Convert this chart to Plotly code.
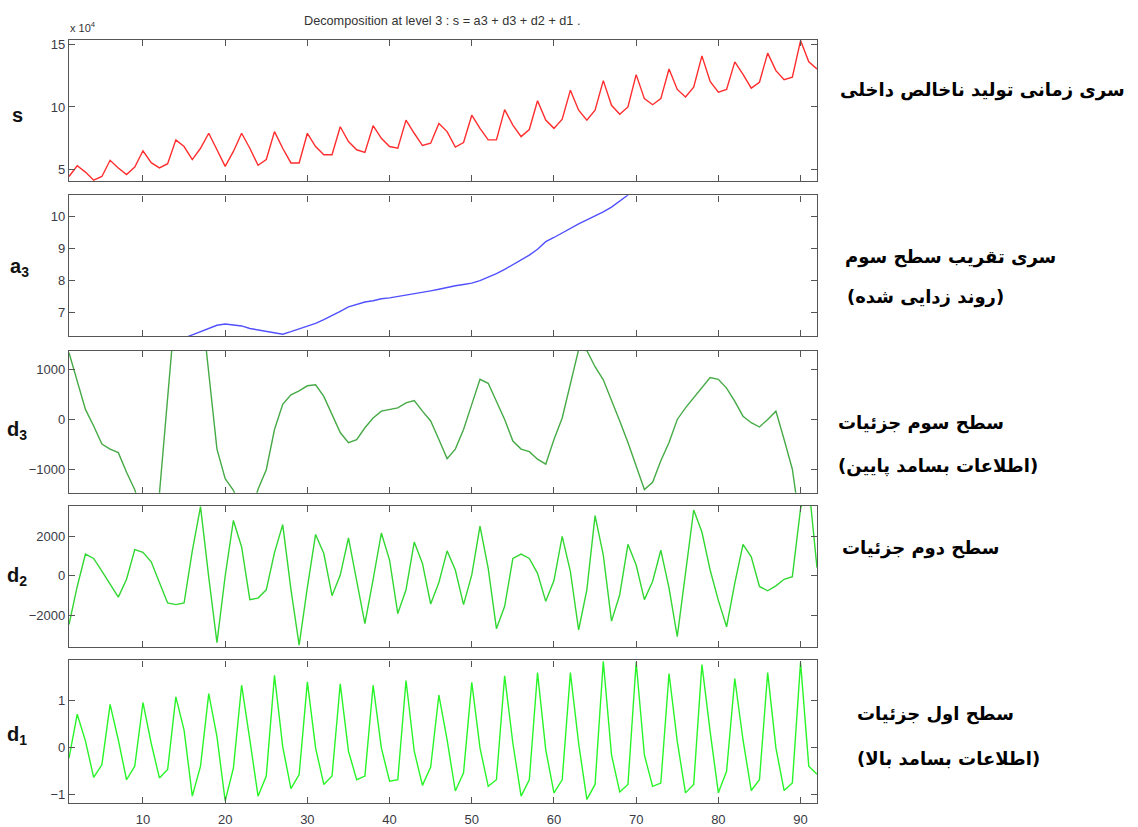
import plotly.graph_objects as go

# ---------------- data ----------------
x = list(range(1, 93))

# s in units of 1e4
s_e4 = [4.45, 5.3, 4.8, 4.15, 4.45, 5.74, 5.13, 4.6, 5.2, 6.5,
        5.55, 5.13, 5.47, 7.37, 6.84, 5.8, 6.7, 7.9, 6.58, 5.26,
        6.45, 7.9, 6.7, 5.34, 5.8, 8.03, 6.7, 5.53, 5.53, 7.9,
        6.84, 6.18, 6.18, 8.42, 7.24, 6.58, 6.37, 8.5, 7.5, 6.84,
        6.7, 8.95, 7.9, 6.92, 7.1, 8.68, 8.03, 6.8, 7.16, 9.34,
        8.29, 7.37, 7.37, 9.79, 8.55, 7.63, 8.2, 10.5, 8.95, 8.29,
        9.03, 11.34, 9.74, 8.95, 9.74, 12.1, 10.13, 9.42, 10.0, 12.58,
        10.66, 10.18, 10.66, 13.03, 11.4, 10.8, 11.58, 14.08, 12.03, 11.18,
        11.4, 13.6, 12.6, 11.5, 11.97, 14.3, 12.9, 12.18, 12.37, 15.3,
        13.6, 13.03]

# a3 in units of 1e4
a3_e4 = [4.9, 4.95, 5.0, 5.05, 5.1, 5.2, 5.3, 5.4, 5.5, 5.6,
         5.7, 5.8, 5.95, 6.08, 6.2, 6.3, 6.4, 6.5, 6.6, 6.64,
         6.6, 6.58, 6.5, 6.45, 6.4, 6.36, 6.32, 6.4, 6.48, 6.56,
         6.66, 6.78, 6.9, 7.04, 7.18, 7.26, 7.33, 7.37, 7.43, 7.46,
         7.5, 7.54, 7.58, 7.63, 7.68, 7.73, 7.79, 7.84, 7.88, 7.92,
         8.0, 8.1, 8.22, 8.35, 8.5, 8.65, 8.8, 8.98, 9.22, 9.35,
         9.5, 9.65, 9.78, 9.9, 10.02, 10.15, 10.3, 10.48, 10.68, 10.9,
         11.1, 11.3, 11.45, 11.6, 11.75, 11.9, 12.0, 12.1, 12.2, 12.3,
         12.4, 12.5, 12.6, 12.7, 12.8, 12.9, 13.0, 13.1, 13.2, 13.3,
         13.4, 13.5]

d3 = [1330, 790, 200, -130, -490, -590, -660, -1050, -1400, -1900,
      -2100, -1480, 440, 2340, 2900, 3000, 2450, 950, -590, -1180,
      -1410, -1800, -1900, -1390, -1000, -200, 300, 490, 570, 670,
      690, 460, 100, -260, -460, -400, -165, 30, 165, 200,
      230, 330, 375, 165, -30, -400, -780, -590, -200, 300,
      800, 720, 360, 0, -430, -590, -640, -790, -890, -400,
      30, 720, 1390, 1370, 1050, 790, 395, -30, -460, -920,
      -1395, -1250, -820, -460, 0, 230, 430, 625, 835, 800,
      625, 360, 65, -65, -150, 0, 165, -400, -990, -2140,
      -2600, -2900]

d2 = [-2480, -550, 1090, 870, 230, -435, -1090, -185, 1320, 1180,
      700, -350, -1390, -1470, -1390, 1255, 3500, -80, -3400, -20,
      2800, 1455, -1220, -1140, -720, 1170, 2590, -700, -3530, -600,
      2090, 1120, -1020, 30, 1910, -270, -2440, -185, 2160, 790,
      -1925, -720, 1700, 620, -1440, -350, 1255, 285, -1470, 35,
      2510, 370, -2695, -1555, 870, 1090, 870, 115, -1305, -250,
      1990, 200, -2760, -720, 3045, 1040, -2310, -970, 1590, 535,
      -1220, -300, 1290, -635, -3100, 115, 3330, 2210, 285, -1255,
      -2595, -385, 1590, 955, -550, -770, -520, -185, -50, 3400,
      4600, 400]

# d1 in units of 1e4
d1_e4 = [-0.23, 0.71, 0.14, -0.64, -0.37, 0.92, 0.16, -0.69, -0.40, 0.96,
         0.09, -0.65, -0.47, 1.08, 0.37, -1.04, -0.40, 1.15, 0.23, -1.14,
         -0.44, 1.33, 0.16, -1.04, -0.61, 1.54, 0.02, -0.88, -0.58, 1.40,
         -0.01, -0.79, -0.61, 1.36, -0.08, -0.69, -0.61, 1.33, -0.01, -0.72,
         -0.69, 1.43, -0.08, -0.81, -0.42, 1.12, 0.16, -0.93, -0.54, 1.39,
         -0.01, -0.83, -0.69, 1.53, 0.09, -1.04, -0.69, 1.60, -0.05, -0.97,
         -0.69, 1.60, 0.09, -1.11, -0.79, 1.84, -0.16, -0.95, -0.79, 1.82,
         -0.16, -0.83, -0.76, 1.58, 0.13, -0.97, -0.79, 1.77, 0.34, -0.97,
         -0.51, 1.47, 0.16, -0.92, -0.69, 1.60, -0.01, -0.92, -0.76, 1.82,
         -0.40, -0.57]

x_ticks = [10, 20, 30, 40, 50, 60, 70, 80, 90]
title_text = "Decomposition at level 3 : s = a3 + d3 + d2 + d1 ."
row_labels = ["s", "a<sub>3</sub>", "d<sub>3</sub>", "d<sub>2</sub>", "d<sub>1</sub>"]
y_ticks = [[5, 10, 15], [7, 8, 9, 10], [-1000, 0, 1000], [-2000, 0, 2000], [-1, 0, 1]]
y_ranges = [[4.05, 15.37], [6.26, 10.67], [-1460, 1362], [-3648, 3548], [-1.19, 1.86]]
persian_lines = [
    "سری زمانی تولید ناخالص داخلی",
    "سری تقریب سطح سوم",
    "(روند زدایی شده)",
    "سطح سوم جزئیات",
    "(اطلاعات بسامد پایین)",
    "سطح دوم جزئیات",
    "سطح اول جزئیات",
    "(اطلاعات بسامد بالا)",
]

# ---------------- layout geometry ----------------
W, H = 1138, 827
series = [s_e4, a3_e4, d3, d2, d1_e4]
colors = ["rgb(255,45,45)", "rgb(80,80,255)", "rgb(70,170,70)",
          "rgb(50,215,50)", "rgb(40,245,40)"]
panels_px = [(37, 180), (194, 336), (351, 494), (507, 650), (663, 807)]
x_dom = [69 / W, 817 / W]

fig = go.Figure()
axis_col = "#555555"
tick_font = dict(family="Arial, Liberation Sans", size=13, color="#3a3a44")

for k in range(5):
    xa = "x" if k == 0 else f"x{k+1}"
    ya = "y" if k == 0 else f"y{k+1}"
    fig.add_trace(go.Scatter(x=x, y=series[k], mode="lines",
                             line=dict(color=colors[k], width=1.4),
                             xaxis=xa, yaxis=ya, showlegend=False,
                             hoverinfo="skip"))
    top, bot = panels_px[k]
    ydom = [1 - bot / H, 1 - top / H]
    xkey = "xaxis" if k == 0 else f"xaxis{k+1}"
    ykey = "yaxis" if k == 0 else f"yaxis{k+1}"
    fig.update_layout(**{
        xkey: dict(domain=x_dom, range=[1, 92], anchor=ya,
                   tickvals=x_ticks, showticklabels=(k == 4),
                   ticks="inside", ticklen=6, tickcolor=axis_col, tickwidth=1,
                   showline=True, linecolor=axis_col, linewidth=1.3,
                   mirror="ticks", showgrid=False, zeroline=False,
                   tickfont=tick_font, fixedrange=True, ticklabelstandoff=4),
        ykey: dict(domain=ydom, range=y_ranges[k], anchor=xa,
                   tickvals=y_ticks[k],
                   ticks="inside", ticklen=6, tickcolor=axis_col, tickwidth=1,
                   showline=True, linecolor=axis_col, linewidth=1.3,
                   mirror="ticks", showgrid=False, zeroline=False,
                   tickfont=tick_font, fixedrange=True),
    })

annotations = []
# title
annotations.append(dict(text=title_text, x=442 / W, y=1 - 18 / H, xref="paper", yref="paper",
                        showarrow=False, xanchor="center", yanchor="middle",
                        font=dict(family="Arial, Liberation Sans", size=12.7, color="#333333")))
# exponent label of top panel
annotations.append(dict(text="x 10<sup>4</sup>", x=68 / W, y=1 - 24 / H, xref="paper", yref="paper",
                        showarrow=False, xanchor="left", yanchor="middle",
                        font=dict(family="Arial, Liberation Sans", size=11, color="#333333")))
# row labels on the left
label_pos = [(17, 113), (19, 267), (17, 431), (17, 578), (17, 739)]
for lab, (px, py) in zip(row_labels, label_pos):
    annotations.append(dict(text=f"<b>{lab}</b>", x=px / W, y=1 - py / H, xref="paper", yref="paper",
                            showarrow=False, xanchor="center", yanchor="middle",
                            font=dict(family="Arial, Liberation Sans", size=20, color="#111111")))
# Persian labels on the right (one annotation per line)
persian_pos = [(838, 88), (843, 256), (845, 297), (836, 424), (836, 467),
               (840, 550), (855, 717), (855, 762)]
for lab, (px, py) in zip(persian_lines, persian_pos):
    annotations.append(dict(text=f"<b>{lab}</b>", x=px / W, y=1 - py / H, xref="paper", yref="paper",
                            showarrow=False, xanchor="left", yanchor="middle", align="left",
                            font=dict(family="DejaVu Sans", size=18, color="#000000")))

fig.update_layout(width=W, height=H, margin=dict(l=0, r=0, t=0, b=0),
                  paper_bgcolor="white", plot_bgcolor="white",
                  annotations=annotations, showlegend=False)

fig.write_html("out.html", config={"displayModeBar": False},
               post_script="document.body.style.margin='0';"
                           "document.body.style.overflow='hidden';")
